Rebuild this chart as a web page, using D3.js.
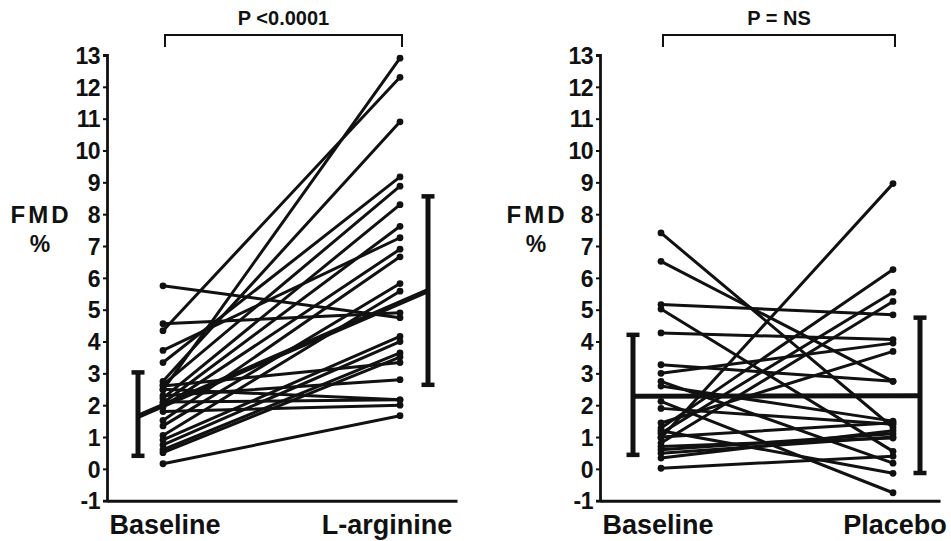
<!DOCTYPE html>
<html>
<head>
<meta charset="utf-8">
<script src="https://cdn.jsdelivr.net/npm/d3@7"></script>
<style>
  html, body { margin: 0; padding: 0; background: #fff; }
  svg { display: block; }
  text { font-family: "Liberation Sans", Arial, Helvetica, sans-serif; font-weight: bold; fill: #111; }
</style>
</head>
<body>
<svg id="chart" width="951" height="541"></svg>
<script>
// FMD (%) per subject, before and after treatment
const argCategories = ["Baseline", "L-arginine"];
const argBaseline = [5.75, 4.56, 4.34, 3.72, 3.34, 2.75, 2.64, 2.48, 2.22, 2.07, 1.94, 1.52, 1.35, 1.05, 0.91, 0.75, 0.60, 0.51, 0.16, 2.60, 2.30, 2.10, 2.50, 1.80];
const argAfter    = [4.75, 4.90, 12.3, 7.26, 9.17, 10.9, 8.88, 12.9, 8.30, 7.62, 6.90, 6.66, 5.82, 5.58, 4.16, 4.00, 3.64, 3.51, 1.67, 3.34, 2.80, 2.17, 2.17, 2.00];
// group mean and spread (baseline, after)
const argMean = [1.65, 5.60];
const argLow  = [0.41, 2.64];
const argHigh = [3.03, 8.56];

const plcCategories = ["Baseline", "Placebo"];
const plcBaseline = [7.41, 6.52, 5.16, 5.02, 4.27, 3.27, 2.75, 2.60, 2.12, 1.90, 1.44, 1.28, 1.12, 0.97, 0.81, 0.60, 0.49, 0.34, 0.02, 1.20, 0.70, 1.00, 3.00];
const plcAfter    = [1.30, 2.75, 4.84, 0.55, 4.06, 2.75, 0.18, 1.50, -0.75, 1.40, 3.69, 6.26, 5.55, 8.96, 5.26, 1.10, 1.00, 1.20, 0.40, -0.14, 0.97, 1.45, 3.95];
const plcMean = [2.28, 2.30];
const plcLow  = [0.44, -0.13];
const plcHigh = [4.21, 4.75];

const yTickValues = [-1, 0, 1, 2, 3, 4, 5, 6, 7, 8, 9, 10, 11, 12, 13];
const pTexts = ["P <0.0001", "P = NS"];
const yLabel = ["FMD", "%"];

const svg = d3.select("#chart");
const y = d3.scaleLinear().domain([-1, 13]).range([500.7, 55]);

const panels = [
  { cats: argCategories, base: argBaseline, after: argAfter, mean: argMean, low: argLow, high: argHigh,
    axisX: 107, axisEnd: 457, pts: [163, 400], barOff: [-25, 28], labelDx: [2, -13], labelX: 40, p: pTexts[0] },
  { cats: plcCategories, base: plcBaseline, after: plcAfter, mean: plcMean, low: plcLow, high: plcHigh,
    axisX: 600, axisEnd: 940, pts: [661, 893], barOff: [-28, 27], labelDx: [-3, 2], labelX: 536, p: pTexts[1] }
];

// plain hyphen for negative tick values
const tickFmt = d => (d < 0 ? "-" + Math.abs(d) : String(d));

panels.forEach(pn => {
  const g = svg.append("g");
  const x = d3.scalePoint().domain(pn.cats).range(pn.pts);

  // y axis
  const yAxis = g.append("g")
    .attr("transform", `translate(${pn.axisX},0)`)
    .call(d3.axisLeft(y).tickValues(yTickValues).tickFormat(tickFmt)
      .tickSize(4).tickSizeOuter(4).tickPadding(3));
  yAxis.select(".domain").attr("stroke", "#111").attr("stroke-width", 2.8);
  yAxis.selectAll(".tick line").attr("stroke", "#111").attr("stroke-width", 2);
  yAxis.selectAll(".tick text")
    .attr("font-size", 23).attr("font-family", "'Liberation Sans', Arial, sans-serif")
    .attr("font-weight", "bold").attr("fill", "#111").attr("letter-spacing", -0.5)
    .attr("dy", "0.36em");

  // x axis line at -1
  const xLine = d3.scaleLinear().range([pn.axisX, pn.axisEnd]);
  const xAxis = g.append("g")
    .attr("transform", `translate(0,${y(-1)})`)
    .call(d3.axisBottom(xLine).tickValues([]).tickSizeOuter(0));
  xAxis.select(".domain").attr("stroke", "#111").attr("stroke-width", 3);

  // category labels
  g.selectAll(".cat").data(pn.cats).join("text")
    .attr("x", (d, i) => x(d) + pn.labelDx[i])
    .attr("y", 534)
    .attr("text-anchor", "middle")
    .attr("font-size", 27)
    .text(d => d);

  // y label
  g.append("text").attr("x", pn.labelX + 1).attr("y", 223).attr("text-anchor", "middle")
    .attr("font-size", 24).attr("letter-spacing", 3).text(yLabel[0]);
  g.append("text").attr("x", pn.labelX).attr("y", 252).attr("text-anchor", "middle")
    .attr("font-size", 23).text(yLabel[1]);

  // significance bracket
  const bx0 = x(pn.cats[0]) + 2, bx1 = x(pn.cats[1]) + 2;
  g.append("path")
    .attr("d", `M${bx0},47V35H${bx1}V47`)
    .attr("fill", "none").attr("stroke", "#111").attr("stroke-width", 2);
  g.append("text").attr("x", (bx0 + bx1) / 2).attr("y", 25).attr("text-anchor", "middle")
    .attr("font-size", 20).text(pn.p);

  // subject lines
  const pairs = pn.base.map((b, i) => [b, pn.after[i]]);
  g.selectAll(".subj").data(pairs).join("line")
    .attr("x1", x(pn.cats[0])).attr("x2", x(pn.cats[1]))
    .attr("y1", d => y(d[0])).attr("y2", d => y(d[1]))
    .attr("stroke", "#111").attr("stroke-width", 3).attr("stroke-linecap", "round");
  g.selectAll(".dot0").data(pn.base).join("circle")
    .attr("cx", x(pn.cats[0])).attr("cy", d => y(d)).attr("r", 3.4).attr("fill", "#111");
  g.selectAll(".dot1").data(pn.after).join("circle")
    .attr("cx", x(pn.cats[1])).attr("cy", d => y(d)).attr("r", 3.4).attr("fill", "#111");

  // mean line and spread bars
  const bxs = pn.cats.map((c, i) => x(c) + pn.barOff[i]);
  g.append("line")
    .attr("x1", bxs[0]).attr("x2", bxs[1])
    .attr("y1", y(pn.mean[0])).attr("y2", y(pn.mean[1]))
    .attr("stroke", "#111").attr("stroke-width", 5);
  bxs.forEach((bx, i) => {
    g.append("line").attr("x1", bx).attr("x2", bx)
      .attr("y1", y(pn.low[i])).attr("y2", y(pn.high[i]))
      .attr("stroke", "#111").attr("stroke-width", 5);
    [pn.low[i], pn.high[i]].forEach(v => {
      g.append("line").attr("x1", bx - 6.5).attr("x2", bx + 6.5)
        .attr("y1", y(v)).attr("y2", y(v))
        .attr("stroke", "#111").attr("stroke-width", 4.5);
    });
  });
});
</script>
</body>
</html>
